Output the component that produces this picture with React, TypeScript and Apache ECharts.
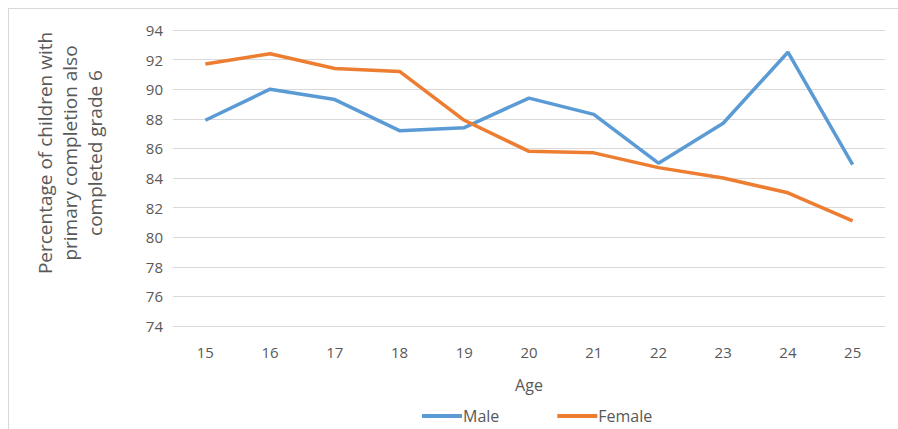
import React, { useEffect, useRef } from "react";
import * as echarts from "echarts";

const ages = ["15", "16", "17", "18", "19", "20", "21", "22", "23", "24", "25"];
const male = [87.9, 90.0, 89.3, 87.2, 87.4, 89.4, 88.3, 85.0, 87.7, 92.5, 84.9];
const female = [91.7, 92.4, 91.4, 91.2, 87.9, 85.8, 85.7, 84.7, 84.0, 83.0, 81.1];
const yTitle = ["Percentage of children with", "primary completion also", "completed grade 6"];

const textColor = "#595959";
const gridColor = "#d9d9d9";

export default function App() {
  const ref = useRef<HTMLDivElement>(null);
  useEffect(() => {
    if (!ref.current) return;
    const chart = echarts.init(ref.current, null, { renderer: "svg" });
    chart.setOption({
      animation: false,
      backgroundColor: "#ffffff",
      textStyle: { fontFamily: "Open Sans" },
      grid: { left: 173, right: 13, top: 30, bottom: 103 },
      xAxis: {
        type: "category",
        data: ages,
        boundaryGap: true,
        axisLine: { show: true, lineStyle: { color: gridColor, width: 1 } },
        axisTick: { show: false },
        axisLabel: { color: textColor, fontSize: 15, margin: 18, fontFamily: "Open Sans" },
        name: "Age",
        nameLocation: "middle",
        nameGap: 51,
        nameTextStyle: { color: textColor, fontSize: 16, fontFamily: "Open Sans" },
      },
      yAxis: {
        type: "value",
        min: 74,
        max: 94,
        interval: 2,
        axisLine: { show: false },
        axisTick: { show: false },
        axisLabel: { color: textColor, fontSize: 15, margin: 10, fontFamily: "Open Sans" },
        splitLine: { show: true, lineStyle: { color: gridColor, width: 1 } },
      },
      legend: {
        left: 417,
        top: 403,
        itemGap: 58,
        itemWidth: 40,
        itemHeight: 4,
        icon: "rect",
        textStyle: { color: textColor, fontSize: 16, fontFamily: "Open Sans", padding: [0, 0, 0, -4] },
        data: ["Male", "Female"],
      },
      graphic: [
        { type: "line", shape: { x1: 8, y1: 8.5, x2: 898, y2: 8.5 }, style: { stroke: gridColor, lineWidth: 1 } },
        { type: "line", shape: { x1: 8.5, y1: 8, x2: 8.5, y2: 429 }, style: { stroke: gridColor, lineWidth: 1 } },
        {
          type: "text",
          x: 70,
          y: 153,
          rotation: Math.PI / 2,
          style: {
            text: yTitle.join("\n"),
            fill: textColor,
            font: '19px "Open Sans"',
            align: "center",
            verticalAlign: "middle",
            lineHeight: 25,
          },
        },
      ],
      series: [
        {
          name: "Male",
          type: "line",
          data: male,
          symbol: "none",
          lineStyle: { color: "#5B9BD5", width: 3.5 },
          itemStyle: { color: "#5B9BD5" },
        },
        {
          name: "Female",
          type: "line",
          data: female,
          symbol: "none",
          lineStyle: { color: "#ED7D31", width: 3.5 },
          itemStyle: { color: "#ED7D31" },
        },
      ],
    });
    return () => chart.dispose();
  }, []);
  return (
    <div
      ref={ref}
      style={{ position: "absolute", left: 0, top: 0, width: 898, height: 429 }}
    />
  );
}
